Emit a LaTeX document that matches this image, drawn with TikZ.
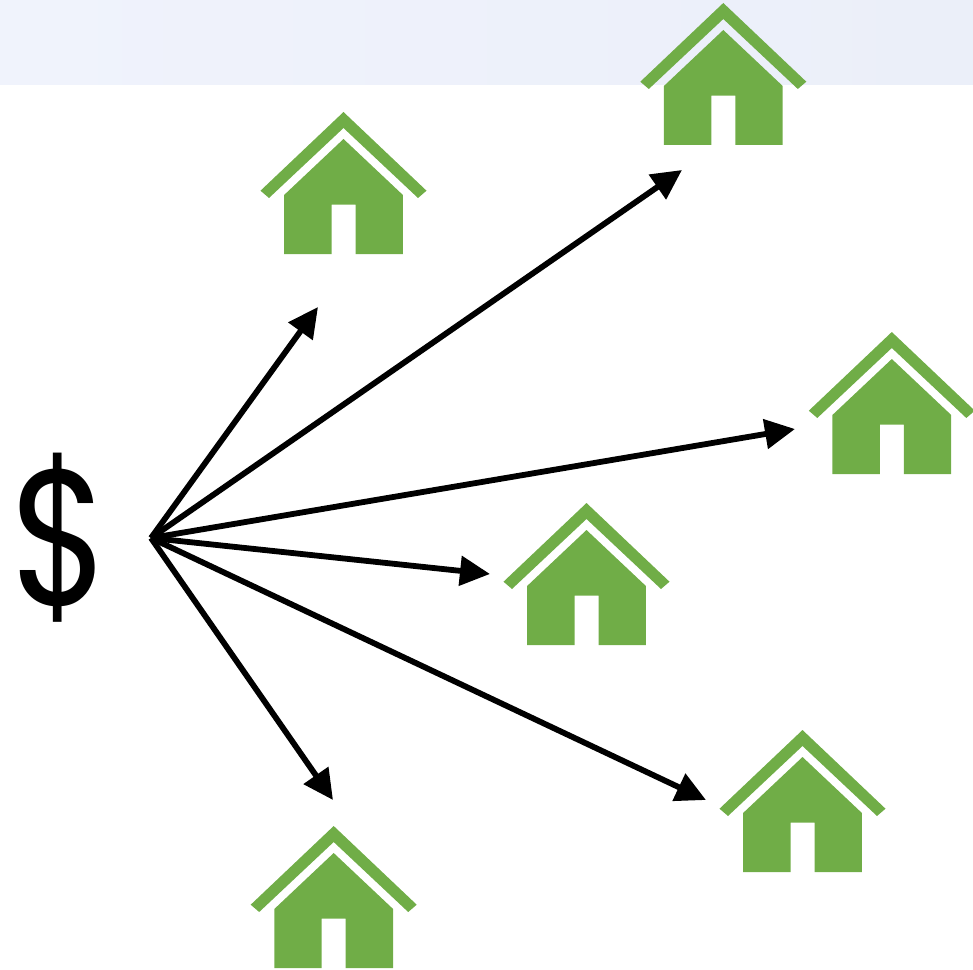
\documentclass[tikz,border=0pt]{standalone}
\usepackage{fontspec}
\newfontfamily\moneyfont{Poppins}
\usetikzlibrary{arrows.meta,positioning}
\definecolor{houseGreen}{HTML}{70AD47}
\definecolor{bandLeft}{HTML}{F0F3FC}
\definecolor{bandRight}{HTML}{EBEFF9}

\begin{document}
\begin{tikzpicture}[x=0.01cm,y=-0.01cm,
	    flow/.style= {
	        line width=0.058cm,
	        -{Triangle[length=0.3cm,width=0.29cm]}},
	    house/.pic= {
	        \fill[houseGreen] (0,0) -- (83,78.7) -- (74.5,86) -- (0,16) -- (-74.5,86) -- (-83,78.7) -- cycle;
	        \fill[houseGreen] (0,27) -- (59.4,83) -- (59.4,142) -- (12,142) -- (12,92.7) -- (-12,92.7) -- (-12,142) -- (-59.4,142) -- (-59.4,83) -- cycle;
	    }]
		\useasboundingbox (0,0) rectangle (973,970);

		% Band
		\fill[left color=bandLeft,right color=bandRight] (0,0) rectangle (973,85);

		% Houses
		\pic (houseA) at (343.5,112) {house};
		\pic (houseB) at (723.3,3) {house};
		\pic (houseC) at (891.8,332) {house};
		\pic (houseD) at (586.5,503) {house};
		\pic (houseE) at (802.5,730) {house};
		\pic (houseF) at (333.7,826) {house};

		% Money
		\node[inner sep=0pt,xscale=0.83,transform shape,font=\fontsize{55}{55}\selectfont\moneyfont] (money) at (60,538) {\$};

		% Ends
		\coordinate (src) at (151,538);
		\coordinate (endA) at (318,307);
		\coordinate (endB) at (682,170);
		\coordinate (endC) at (795,429);
		\coordinate (endD) at (490,574);
		\coordinate (endE) at (706,800);
		\coordinate (endF) at (333,800);

		% Arrows
		\foreach \target in {endA,endB,endC,endD,endE,endF}
		    \draw[flow] (src) -- (\target);

	\end{tikzpicture}
\end{document}
